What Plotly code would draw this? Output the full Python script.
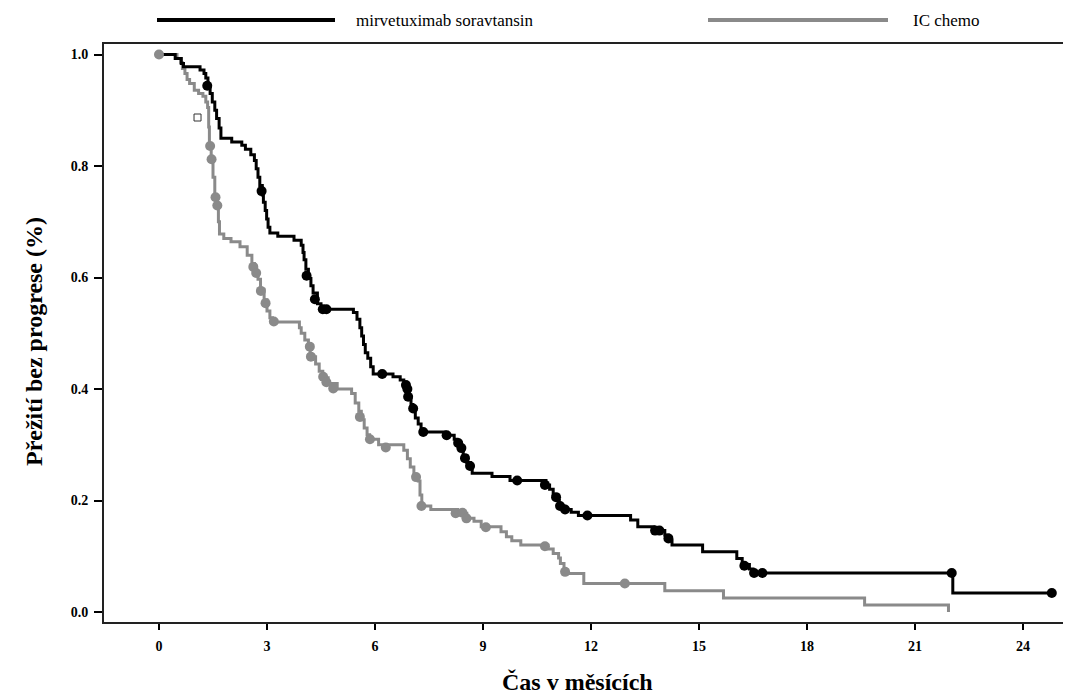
import plotly.graph_objects as go

# ---------------- data ----------------
mirv_time = [0, 0.45, 0.62, 0.68, 1.14, 1.25, 1.3, 1.36, 1.42, 1.48, 1.55, 1.6, 1.67, 1.72,
             2.02, 2.3, 2.4, 2.55, 2.65, 2.7, 2.75, 2.8, 2.87, 2.9, 2.95, 2.99, 3.03, 3.08,
             3.3, 3.75, 3.95, 4.0, 4.03, 4.08, 4.15, 4.22, 4.28, 4.4, 4.5, 5.4, 5.5, 5.58,
             5.63, 5.68, 5.73, 5.8, 5.88, 5.95, 6.5, 6.7, 6.8, 6.88, 6.93, 7.0, 7.05, 7.12,
             7.2, 7.28, 7.95, 8.2, 8.28, 8.38, 8.45, 8.55, 8.65, 8.7, 9.25, 9.75, 10.75,
             10.85, 10.95, 11.05, 11.12, 11.25, 11.45, 11.65, 13.1, 13.3, 13.75, 14.05,
             14.15, 14.25, 15.1, 16.05, 16.2, 16.4, 16.5, 22.05, 24.8]
mirv_surv = [1.0, 0.993, 0.984, 0.978, 0.972, 0.966, 0.958, 0.944, 0.93, 0.915, 0.9, 0.885,
             0.868, 0.85, 0.843, 0.837, 0.83, 0.82, 0.81, 0.795, 0.78, 0.765, 0.748, 0.735,
             0.72, 0.705, 0.69, 0.68, 0.674, 0.667, 0.658, 0.645, 0.632, 0.615, 0.598,
             0.585, 0.572, 0.553, 0.543, 0.537, 0.525, 0.51, 0.495, 0.48, 0.465, 0.455,
             0.44, 0.427, 0.422, 0.416, 0.41, 0.4, 0.386, 0.372, 0.36, 0.348, 0.337, 0.323,
             0.317, 0.31, 0.303, 0.292, 0.28, 0.268, 0.258, 0.249, 0.243, 0.236, 0.228,
             0.22, 0.21, 0.2, 0.19, 0.184, 0.179, 0.173, 0.165, 0.153, 0.146, 0.138, 0.128,
             0.12, 0.108, 0.096, 0.085, 0.077, 0.07, 0.034, 0.034]
mirv_cens_time = [1.34, 2.85, 4.1, 4.33, 4.55, 4.65, 6.2, 6.86, 6.9, 6.92, 7.06, 7.34, 7.99,
                  8.31, 8.4, 8.5, 8.64, 9.95, 10.72, 11.03, 11.14, 11.28, 11.9, 13.78, 13.9,
                  14.15, 16.26, 16.53, 16.76, 22.02, 24.8]
mirv_cens_surv = [0.944, 0.755, 0.603, 0.561, 0.543, 0.543, 0.427, 0.407, 0.4, 0.386, 0.365,
                  0.323, 0.317, 0.303, 0.294, 0.276, 0.262, 0.236, 0.228, 0.206, 0.19, 0.184,
                  0.173, 0.146, 0.146, 0.132, 0.083, 0.07, 0.07, 0.07, 0.034]

ic_time = [0, 0.5, 0.6, 0.65, 0.72, 0.78, 0.85, 0.98, 1.1, 1.22, 1.3, 1.35, 1.38, 1.4, 1.45,
           1.5, 1.55, 1.6, 1.65, 1.68, 1.8, 2.0, 2.25, 2.45, 2.58, 2.65, 2.75, 2.82, 2.92,
           3.0, 3.08, 3.15, 3.9, 3.95, 4.05, 4.15, 4.2, 4.35, 4.45, 4.55, 4.7, 4.95, 5.35,
           5.45, 5.55, 5.62, 5.7, 5.78, 5.85, 6.1, 6.8, 6.9, 6.98, 7.08, 7.2, 7.25, 7.3,
           7.55, 8.3, 8.55, 8.75, 8.95, 9.5, 9.65, 9.8, 10.05, 10.8, 10.95, 11.1, 11.15,
           11.25, 11.35, 11.8, 14.05, 15.68, 19.6, 21.93]
ic_surv = [1.0, 0.993, 0.985, 0.975, 0.966, 0.955, 0.948, 0.936, 0.93, 0.925, 0.915, 0.905,
           0.87, 0.84, 0.812, 0.78, 0.745, 0.73, 0.70, 0.678, 0.67, 0.664, 0.655, 0.64,
           0.625, 0.61, 0.597, 0.578, 0.56, 0.54, 0.528, 0.52, 0.51, 0.5, 0.488, 0.475,
           0.458, 0.445, 0.432, 0.42, 0.41, 0.4, 0.392, 0.375, 0.36, 0.345, 0.33, 0.318,
           0.31, 0.3, 0.29, 0.275, 0.26, 0.245, 0.235, 0.21, 0.19, 0.184, 0.177, 0.168,
           0.163, 0.153, 0.144, 0.135, 0.128, 0.12, 0.113, 0.105, 0.097, 0.087, 0.075,
           0.069, 0.051, 0.038, 0.025, 0.0125, 0.0]
ic_cens_time = [0, 1.42, 1.46, 1.57, 1.62, 2.62, 2.7, 2.83, 2.96, 3.19, 4.19, 4.22, 4.56,
                4.65, 4.84, 5.58, 5.86, 6.3, 7.14, 7.29, 8.24, 8.43, 8.54, 9.08, 10.72,
                11.28, 12.94]
ic_cens_surv = [1.0, 0.836, 0.812, 0.744, 0.729, 0.619, 0.608, 0.576, 0.554, 0.521, 0.476,
                0.458, 0.422, 0.412, 0.401, 0.35, 0.31, 0.295, 0.242, 0.19, 0.177, 0.178,
                0.168, 0.152, 0.118, 0.072, 0.051]

stray_time = [1.07]
stray_surv = [0.887]

x_ticks = [0, 3, 6, 9, 12, 15, 18, 21, 24]
y_ticks = [0.0, 0.2, 0.4, 0.6, 0.8, 1.0]

series_names = ["mirvetuximab soravtansin", "IC chemo"]
x_title = "Čas v měsících"
y_title = "Přežití bez progrese (%)"

# ---------------- styling ----------------
BLACK = "#000000"
GREY = "#8a8a8a"
SERIF = "Liberation Serif, Times New Roman, serif"

PAGE_OFF = 8                       # default body margin of the html page
PAGE_W, PAGE_H = 1071, 696
W, H = PAGE_W - PAGE_OFF, PAGE_H - PAGE_OFF
# plot area edges in page pixels
P_LEFT, P_TOP, P_RIGHT, P_BOTTOM = 104, 44, 1071, 622
L = P_LEFT - PAGE_OFF
T = P_TOP - PAGE_OFF
R = PAGE_W - P_RIGHT
B = PAGE_H - P_BOTTOM
PW, PH = W - L - R, H - T - B


def px_x(p):
    return (p - P_LEFT) / PW


def px_y(p):
    return (P_BOTTOM - p) / PH


fig = go.Figure()

fig.add_trace(go.Scatter(x=ic_time, y=ic_surv, mode="lines",
                         line=dict(color=GREY, width=3, shape="hv"),
                         name=series_names[1], showlegend=False, hoverinfo="skip"))
fig.add_trace(go.Scatter(x=mirv_time, y=mirv_surv, mode="lines",
                         line=dict(color=BLACK, width=3, shape="hv"),
                         name=series_names[0], showlegend=False, hoverinfo="skip"))
fig.add_trace(go.Scatter(x=mirv_cens_time, y=mirv_cens_surv, mode="markers",
                         marker=dict(color=BLACK, size=10),
                         showlegend=False, hoverinfo="skip"))
fig.add_trace(go.Scatter(x=ic_cens_time, y=ic_cens_surv, mode="markers",
                         marker=dict(color=GREY, size=10),
                         showlegend=False, hoverinfo="skip"))
fig.add_trace(go.Scatter(x=stray_time, y=stray_surv, mode="markers",
                         marker=dict(symbol="square-open", color="#333333", size=7,
                                     line=dict(width=1)),
                         showlegend=False, hoverinfo="skip"))

# manual legend
legend_y = px_y(20)
fig.add_shape(type="line", xref="paper", yref="paper", x0=px_x(157), x1=px_x(335),
              y0=legend_y, y1=legend_y, line=dict(color=BLACK, width=4))
fig.add_shape(type="line", xref="paper", yref="paper", x0=px_x(708), x1=px_x(888),
              y0=legend_y, y1=legend_y, line=dict(color=GREY, width=4))
fig.add_annotation(xref="paper", yref="paper", x=px_x(354), y=legend_y, xanchor="left",
                   yanchor="middle", text=series_names[0], showarrow=False,
                   font=dict(family=SERIF, size=17, color=BLACK))
fig.add_annotation(xref="paper", yref="paper", x=px_x(911), y=legend_y, xanchor="left",
                   yanchor="middle", text=series_names[1], showarrow=False,
                   font=dict(family=SERIF, size=17, color=BLACK))

# axis titles
fig.add_annotation(xref="paper", yref="paper", x=px_x(577), y=px_y(682), xanchor="center",
                   yanchor="middle", text="<b>" + x_title + "</b>", showarrow=False,
                   font=dict(family=SERIF, size=24, color=BLACK))
fig.add_annotation(xref="paper", yref="paper", x=px_x(34), y=px_y(342), xanchor="center",
                   yanchor="middle", text="<b>" + y_title + "</b>", showarrow=False,
                   textangle=-90, font=dict(family=SERIF, size=24, color=BLACK))

x0_px, x_scale = 159, 36.0
y0_px, y_scale = 612, 557.5
x_range = [(P_LEFT - x0_px) / x_scale, (P_RIGHT - x0_px) / x_scale]
y_range = [(y0_px - P_BOTTOM) / y_scale, (y0_px - P_TOP) / y_scale]

fig.update_xaxes(range=x_range, tickmode="array", tickvals=x_ticks,
                 ticktext=["<b>%d</b>" % v for v in x_ticks],
                 showgrid=False, zeroline=False, showline=True, linecolor="#222222",
                 linewidth=2, mirror=True, ticks="outside", ticklen=6, tickwidth=1.5,
                 ticklabelstandoff=4,
                 tickcolor=BLACK, tickfont=dict(family=SERIF, size=14, color=BLACK))
fig.update_yaxes(range=y_range, tickmode="array", tickvals=y_ticks,
                 ticktext=["<b>%.1f</b>" % v for v in y_ticks],
                 showgrid=False, zeroline=False, showline=True, linecolor="#222222",
                 linewidth=2, ticks="outside", ticklen=8, tickwidth=1.5,
                 ticklabelstandoff=3,
                 tickcolor=BLACK, tickfont=dict(family=SERIF, size=14, color=BLACK))

fig.update_layout(width=W, height=H, margin=dict(l=L, r=R, t=T, b=B),
                  plot_bgcolor="white", paper_bgcolor="white", showlegend=False)

fig.write_html("out.html")
